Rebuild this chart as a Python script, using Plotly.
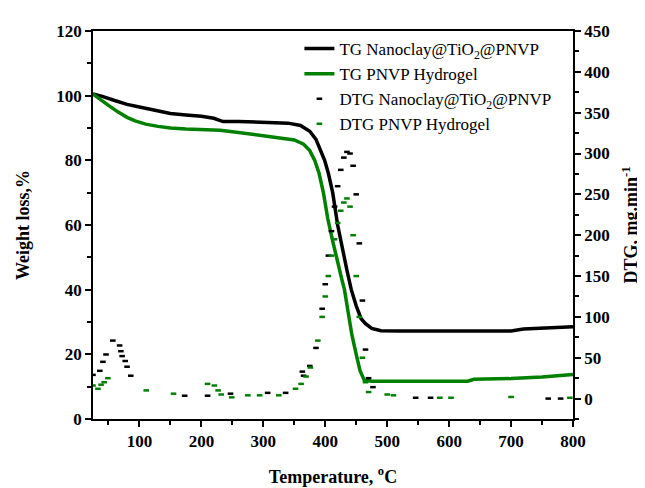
import plotly.graph_objects as go

# TG curves (Weight loss, %)
tg_nano_T = [25, 40, 60, 80, 100, 125, 150, 175, 200, 220, 235, 260, 300, 340, 360, 375, 385, 392, 399, 405, 412, 420, 428, 435, 442, 450, 458, 465, 475, 490, 520, 600, 700, 720, 750, 780, 800]
tg_nano_W = [100.5, 99.8, 98.5, 97.3, 96.5, 95.5, 94.5, 94.0, 93.6, 93.0, 92.0, 92.0, 91.8, 91.5, 90.8, 89.0, 86.5, 83.0, 80.0, 76.0, 70.0, 60.0, 52.0, 46.0, 40.0, 35.0, 31.0, 29.5, 28.0, 27.3, 27.2, 27.2, 27.2, 27.8, 28.0, 28.3, 28.5]

tg_pnvp_T = [25, 38, 50, 65, 80, 93, 110, 130, 150, 175, 200, 230, 260, 300, 330, 350, 365, 375, 383, 390, 397, 404, 412, 420, 427, 431, 437, 443, 450, 456, 463, 475, 500, 630, 640, 700, 750, 780, 800]
tg_pnvp_W = [100.5, 98.5, 97.0, 95.0, 93.3, 92.2, 91.2, 90.5, 90.0, 89.7, 89.5, 89.3, 88.6, 87.5, 86.8, 86.3, 85.0, 83.0, 80.0, 76.0, 70.0, 62.0, 55.0, 48.0, 43.0, 40.0, 33.0, 26.0, 20.0, 15.0, 12.0, 11.7, 11.7, 11.7, 12.3, 12.5, 13.0, 13.5, 13.8]

# DTG curves (mg/min), sparse points
dtg_nano_T = [25, 36, 41, 46, 57, 68, 70, 72, 77, 80, 86, 173, 210, 247, 307, 336, 363, 365, 375, 385, 395, 400, 405, 410, 415, 420, 425, 430, 435, 440, 445, 450, 455, 460, 465, 470, 477, 546, 570, 760, 780]
dtg_nano_V = [29, 34, 45, 54, 71, 65, 58, 52, 46, 39, 28, 3.5, 3.5, 6, 7, 7, 33, 28, 40, 62, 110, 140, 175, 205, 235, 260, 280, 295, 302, 300, 285, 250, 190, 120, 60, 25, 14, 1, 1, 0, 0]

dtg_pnvp_T = [25, 33, 38, 43, 49, 111, 155, 210, 221, 227, 232, 249, 275, 294, 325, 352, 361, 369, 376, 388, 395, 400, 405, 410, 415, 420, 425, 430, 435, 440, 445, 450, 455, 460, 465, 470, 500, 510, 585, 603, 700, 795]
dtg_pnvp_V = [16, 12, 17, 20, 25, 10, 6, 18, 16, 10, 5, 1.5, 4, 4, 4, 12, 18, 27, 38, 71, 100, 125, 150, 175, 195, 215, 230, 240, 245, 235, 200, 150, 100, 50, 20, 8, 5, 4, 1, 1, 2, 1]

GREEN = "#008000"
FONT = "Liberation Serif"

fig = go.Figure()

fig.add_trace(go.Scatter(x=tg_nano_T, y=tg_nano_W, mode="lines",
                         line=dict(color="black", width=3.5),
                         name="TG Nanoclay@TiO<sub>2</sub>@PNVP"))
fig.add_trace(go.Scatter(x=tg_pnvp_T, y=tg_pnvp_W, mode="lines",
                         line=dict(color=GREEN, width=3.5),
                         name="TG PNVP Hydrogel"))
fig.add_trace(go.Scatter(x=dtg_nano_T, y=dtg_nano_V, mode="markers", yaxis="y2",
                         marker=dict(symbol="line-ew", size=4, line=dict(color="black", width=2.5)),
                         name="DTG Nanoclay@TiO<sub>2</sub>@PNVP"))
fig.add_trace(go.Scatter(x=dtg_pnvp_T, y=dtg_pnvp_V, mode="markers", yaxis="y2",
                         marker=dict(symbol="line-ew", size=4, line=dict(color=GREEN, width=2.5)),
                         name="DTG PNVP Hydrogel"))

tickfont = dict(family=FONT, size=17, color="black", weight="bold")
titlefont = dict(family=FONT, size=18, color="black", weight="bold")

fig.update_layout(
    width=645, height=488,
    margin=dict(l=85, r=80, t=23, b=77),
    paper_bgcolor="white", plot_bgcolor="white",
    font=dict(family=FONT, color="black"),
    xaxis=dict(range=[25, 800], tickvals=[100, 200, 300, 400, 500, 600, 700, 800],
               ticks="outside", ticklen=6, tickwidth=1.5, tickcolor="black",
               minor=dict(tickvals=[50, 150, 250, 350, 450, 550, 650, 750], ticks="outside", ticklen=4, tickwidth=1.5, tickcolor="black"),
               showline=True, linecolor="black", linewidth=1.5, mirror=True,
               showgrid=False, zeroline=False, tickfont=tickfont,
               title=dict(text="Temperature, <sup>o</sup>C", font=titlefont, standoff=20)),
    yaxis=dict(range=[0, 120], tickvals=[0, 20, 40, 60, 80, 100, 120],
               ticks="outside", ticklen=6, tickwidth=1.5, tickcolor="black",
               minor=dict(dtick=10, ticks="outside", ticklen=4, tickwidth=1.5, tickcolor="black"),
               showline=True, linecolor="black", linewidth=1.5,
               showgrid=False, zeroline=False, tickfont=tickfont,
               title=dict(text="Weight loss,%", font=titlefont, standoff=22)),
    yaxis2=dict(range=[-25, 450], overlaying="y", side="right",
                tickvals=[0, 50, 100, 150, 200, 250, 300, 350, 400, 450],
                ticks="outside", ticklen=6, tickwidth=1.5, tickcolor="black",
                minor=dict(tickvals=[-25, 25, 75, 125, 175, 225, 275, 325, 375, 425], ticks="outside", ticklen=4, tickwidth=1.5, tickcolor="black"),
                showline=True, linecolor="black", linewidth=1.5,
                showgrid=False, zeroline=False, tickfont=tickfont,
                title=dict(text="DTG, mg.min<sup>-1</sup>", font=titlefont, standoff=16)),
    legend=dict(x=0.43, y=1.0, xanchor="left", yanchor="top",
                bgcolor="rgba(0,0,0,0)", font=dict(family=FONT, size=17, color="black"),
                itemwidth=30, tracegroupgap=0),
    showlegend=True,
)

fig.write_html("out.html")
